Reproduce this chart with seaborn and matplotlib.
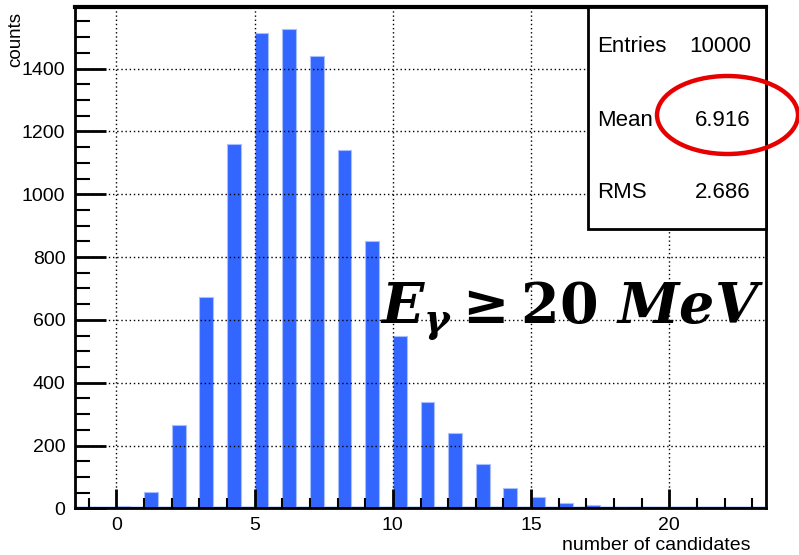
import numpy as np
import pandas as pd
import matplotlib
matplotlib.use("Agg")
import matplotlib.pyplot as plt
from matplotlib.patches import Rectangle, Ellipse
from matplotlib.ticker import MultipleLocator
import seaborn as sns

# histogram contents (bin centre -> counts)
n_cand = [-1, 0, 1, 2, 3, 4, 5, 6, 7, 8, 9, 10, 11,
          12, 13, 14, 15, 16, 17, 18, 19, 20, 21, 22, 23]
counts = [0, 8, 53, 266, 673, 1160, 1512, 1525, 1440, 1140, 852, 550, 338,
          240, 140, 64, 36, 18, 10, 5, 2, 1, 0, 0, 0]
stat_names = ["Entries", "Mean", "RMS"]
stat_values = ["10000", "6.916", "2.686"]

sns.set_theme(style="white")
plt.rcParams["font.family"] = ["Liberation Sans", "DejaVu Sans"]
plt.rcParams["text.color"] = "black"
plt.rcParams["xtick.color"] = "black"
plt.rcParams["ytick.color"] = "black"
plt.rcParams["mathtext.fontset"] = "custom"
plt.rcParams["mathtext.it"] = "DejaVu Serif:italic:bold"
plt.rcParams["mathtext.rm"] = "DejaVu Serif:bold"
plt.rcParams["mathtext.bf"] = "DejaVu Serif:bold"

fig = plt.figure(figsize=(7.99, 5.55), dpi=100)
ax = fig.add_axes([0.0939, 0.0841, 0.8648, 0.9038])

# ROOT style bars: offset 0.5, width 0.5 of the bin
df = pd.DataFrame({"x": np.array(n_cand) + 0.25, "y": counts})
ax.axhline(0, color="#3366ff", lw=2.5, zorder=1)
sns.barplot(data=df, x="x", y="y", native_scale=True, width=0.5,
            color="#3366ff", edgecolor="#a8bfff", linewidth=0.8,
            saturation=1, ax=ax, zorder=2)

ax.set_xlim(-1.5, 23.5)
ax.set_ylim(0, 1597)
ax.xaxis.set_major_locator(MultipleLocator(5))
ax.xaxis.set_minor_locator(MultipleLocator(1))
ax.yaxis.set_major_locator(MultipleLocator(200))
ax.yaxis.set_minor_locator(MultipleLocator(50))
ax.tick_params(axis="both", which="both", direction="in", color="black",
               labelcolor="black", bottom=True, left=True, top=False, right=False)
ax.tick_params(axis="y", which="major", length=22, width=2, labelsize=14, pad=7)
ax.tick_params(axis="y", which="minor", length=11, width=1.5)
ax.tick_params(axis="x", which="major", length=14, width=2, labelsize=14, pad=6)
ax.tick_params(axis="x", which="minor", length=7, width=1.5)
ax.grid(True, which="major", color="black", linestyle=(0, (1, 2)), lw=1)
ax.set_axisbelow(False)
for s in ax.spines.values():
    s.set_color("black")
    s.set_linewidth(2)
ax.spines["top"].set_linewidth(3)
ax.set_xlabel("")
ax.set_ylabel("")

fig.text(750 / 799, 1 - 545 / 555, "number of candidates", fontsize=14,
         ha="right", va="center")
fig.text(16 / 799, 1 - 12 / 555, "counts", fontsize=13.5, rotation=90,
         ha="center", va="top")

# stats box
box = Rectangle((0.742, 0.557), 0.258, 0.443, transform=ax.transAxes,
                facecolor="white", edgecolor="black", lw=2, zorder=5,
                clip_on=False)
ax.add_patch(box)
for i, (nm, val) in enumerate(zip(stat_names, stat_values)):
    yy = 1 - (47 + 73 * i) / 555
    fig.text(597 / 799, yy, nm, fontsize=16, ha="left", va="center", zorder=6)
    fig.text(751 / 799, yy, val, fontsize=16, ha="right", va="center", zorder=6)

fig.patches.append(Ellipse((727.5 / 799, 1 - 115 / 555), 141 / 799, 78 / 555,
                           transform=fig.transFigure, fill=False,
                           edgecolor="#e60000", lw=3.2, zorder=10))

fig.text(380 / 799, 1 - 323 / 555, r"$E_{\gamma}\geq 20\ MeV$", fontsize=40,
         ha="left", va="baseline", zorder=7, color="black")

fig.savefig("out.png", dpi=100)
